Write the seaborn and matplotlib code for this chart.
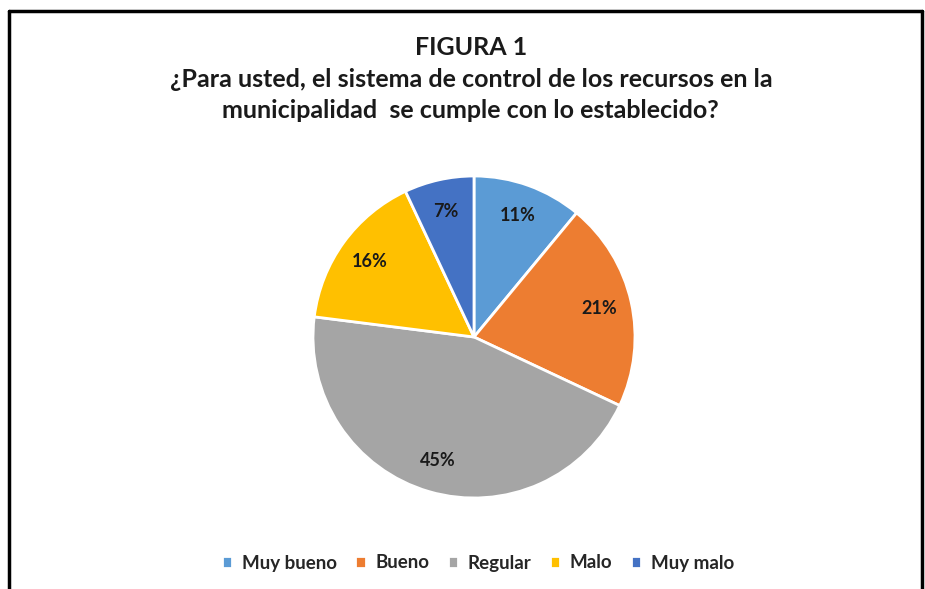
import matplotlib.pyplot as plt
import seaborn as sns
from matplotlib.lines import Line2D

sns.set_theme(style="white")
plt.rcParams["font.family"] = ["Lato", "DejaVu Sans"]

categories = ["Muy bueno", "Bueno", "Regular", "Malo", "Muy malo"]
values = [11, 21, 45, 16, 7]
colors = ["#5B9BD5", "#ED7D31", "#A5A5A5", "#FFC000", "#4472C4"]
title = "FIGURA 1\n¿Para usted, el sistema de control de los recursos en la\nmunicipalidad  se cumple con lo establecido?"

W, H = 925, 589
fig = plt.figure(figsize=(W / 100, H / 100), dpi=100)

# pie axes placed by pixel centre / radius
cx, cy, r = 474, 337, 161
ax = fig.add_axes([(cx - r) / W, (H - cy - r) / H, 2 * r / W, 2 * r / H])
wedges, _, autotexts = ax.pie(
    values,
    colors=colors,
    startangle=90,
    counterclock=False,
    autopct=lambda p: f"{p:.0f}%",
    pctdistance=0.8,
    wedgeprops=dict(edgecolor="white", linewidth=2),
    textprops=dict(fontsize=13, fontweight="bold", color="#1a1a1a"),
)
ax.set_xlim(-1, 1)
ax.set_ylim(-1, 1)
ax.axis("off")

fig.text(0.509, 1 - 36 / H, title, ha="center", va="top", fontsize=18,
         fontweight="bold", color="#1a1a1a", linespacing=1.45)

fig.legend(wedges, categories, loc="center", bbox_to_anchor=(478 / W, 1 - 563 / H),
           ncol=5, frameon=False, handlelength=0.55, handleheight=0.55,
           handletextpad=0.5, columnspacing=1.0,
           prop=dict(size=13.5, weight="bold"))

# chart border (left, top, right)
lw = 2.5
fig.add_artist(Line2D([9 / W, 9 / W], [0, 1 - 11 / H], color="black", lw=lw))
fig.add_artist(Line2D([9 / W, 922 / W], [1 - 11 / H, 1 - 11 / H], color="black", lw=lw))
fig.add_artist(Line2D([922 / W, 922 / W], [0, 1 - 11 / H], color="black", lw=lw))

fig.savefig("out.png", dpi=100)
